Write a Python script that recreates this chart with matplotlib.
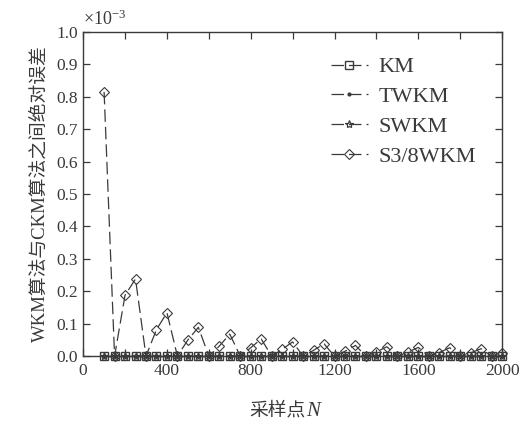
import numpy as np
import matplotlib.pyplot as plt
from matplotlib.ticker import MultipleLocator, FormatStrFormatter

plt.rcParams['font.family'] = ['Liberation Serif', 'Noto Sans CJK SC']
plt.rcParams['mathtext.fontset'] = 'custom'
plt.rcParams['mathtext.rm'] = 'Liberation Serif'
plt.rcParams['mathtext.it'] = 'Liberation Serif:italic'

# sampling points
N = np.arange(100, 2001, 50)

# absolute error vs CKM (x1e-3)
km = np.zeros(len(N))
twkm = np.zeros(len(N))
swkm = np.zeros(len(N))
s38wkm = np.array([
    0.815, 0.0, 0.188, 0.238, 0.0, 0.082, 0.134, 0.0, 0.050, 0.089,
    0.0, 0.031, 0.068, 0.0, 0.026, 0.053, 0.0, 0.021, 0.044, 0.0,
    0.018, 0.038, 0.0, 0.015, 0.033, 0.0, 0.013, 0.029, 0.0, 0.012,
    0.027, 0.0, 0.011, 0.026, 0.0, 0.010, 0.023, 0.0, 0.009])

labels = ['KM', 'TWKM', 'SWKM', 'S3/8WKM']

c = '#3a3a3a'
fig = plt.figure(figsize=(5.23, 4.25), dpi=100)
ax = fig.add_axes([0.159, 0.162, 0.801, 0.763])

dash = (10, 4)
kw = dict(ls='--', dashes=dash, color=c, lw=0.9, clip_on=False, zorder=3)
ax.plot(N, km, marker='s', ms=6, mfc='none', mew=1.0, label=labels[0], **kw)
ax.plot(N, twkm, marker='.', ms=4, label=labels[1], **kw)
ax.plot(N, swkm, marker='*', ms=6, mfc='none', mew=0.9, label=labels[2], **kw)
ax.plot(N, s38wkm, marker='D', ms=5.5, mfc='none', mew=0.8, label=labels[3], **kw)

ax.set_xlim(0, 2000)
ax.set_ylim(0, 1.0)
ax.xaxis.set_major_locator(MultipleLocator(400))
ax.xaxis.set_minor_locator(MultipleLocator(200))
ax.yaxis.set_major_locator(MultipleLocator(0.1))
ax.yaxis.set_major_formatter(FormatStrFormatter('%.1f'))
ax.text(0.0, 1.01, r'×10$^{-3}$', transform=ax.transAxes, fontsize=13,
        color=c, ha='left', va='bottom')

ax.tick_params(which='both', direction='in', top=True, right=True,
               length=5, width=0.9, color=c, labelsize=12.5, labelcolor=c)
ax.tick_params(axis='x', pad=5)
for s in ax.spines.values():
    s.set_color(c)
    s.set_linewidth(1.0)

# x label: CJK text plus italic N
fig.text(0.584, 0.022, '采样点', fontsize=13.5, color=c, ha='right', va='baseline')
fig.text(0.586, 0.022, 'N', fontsize=15, color=c, ha='left', va='baseline',
         style='italic')
ax.set_ylabel('WKM算法与CKM算法之间绝对误差', fontsize=13.5, color=c, labelpad=6)

leg = ax.legend(loc='upper right', frameon=False, fontsize=16, handlelength=1.7,
                handletextpad=0.45, labelspacing=0.42, bbox_to_anchor=(0.985, 0.985))
for t in leg.get_texts():
    t.set_color(c)

fig.savefig('out.png', dpi=100)
